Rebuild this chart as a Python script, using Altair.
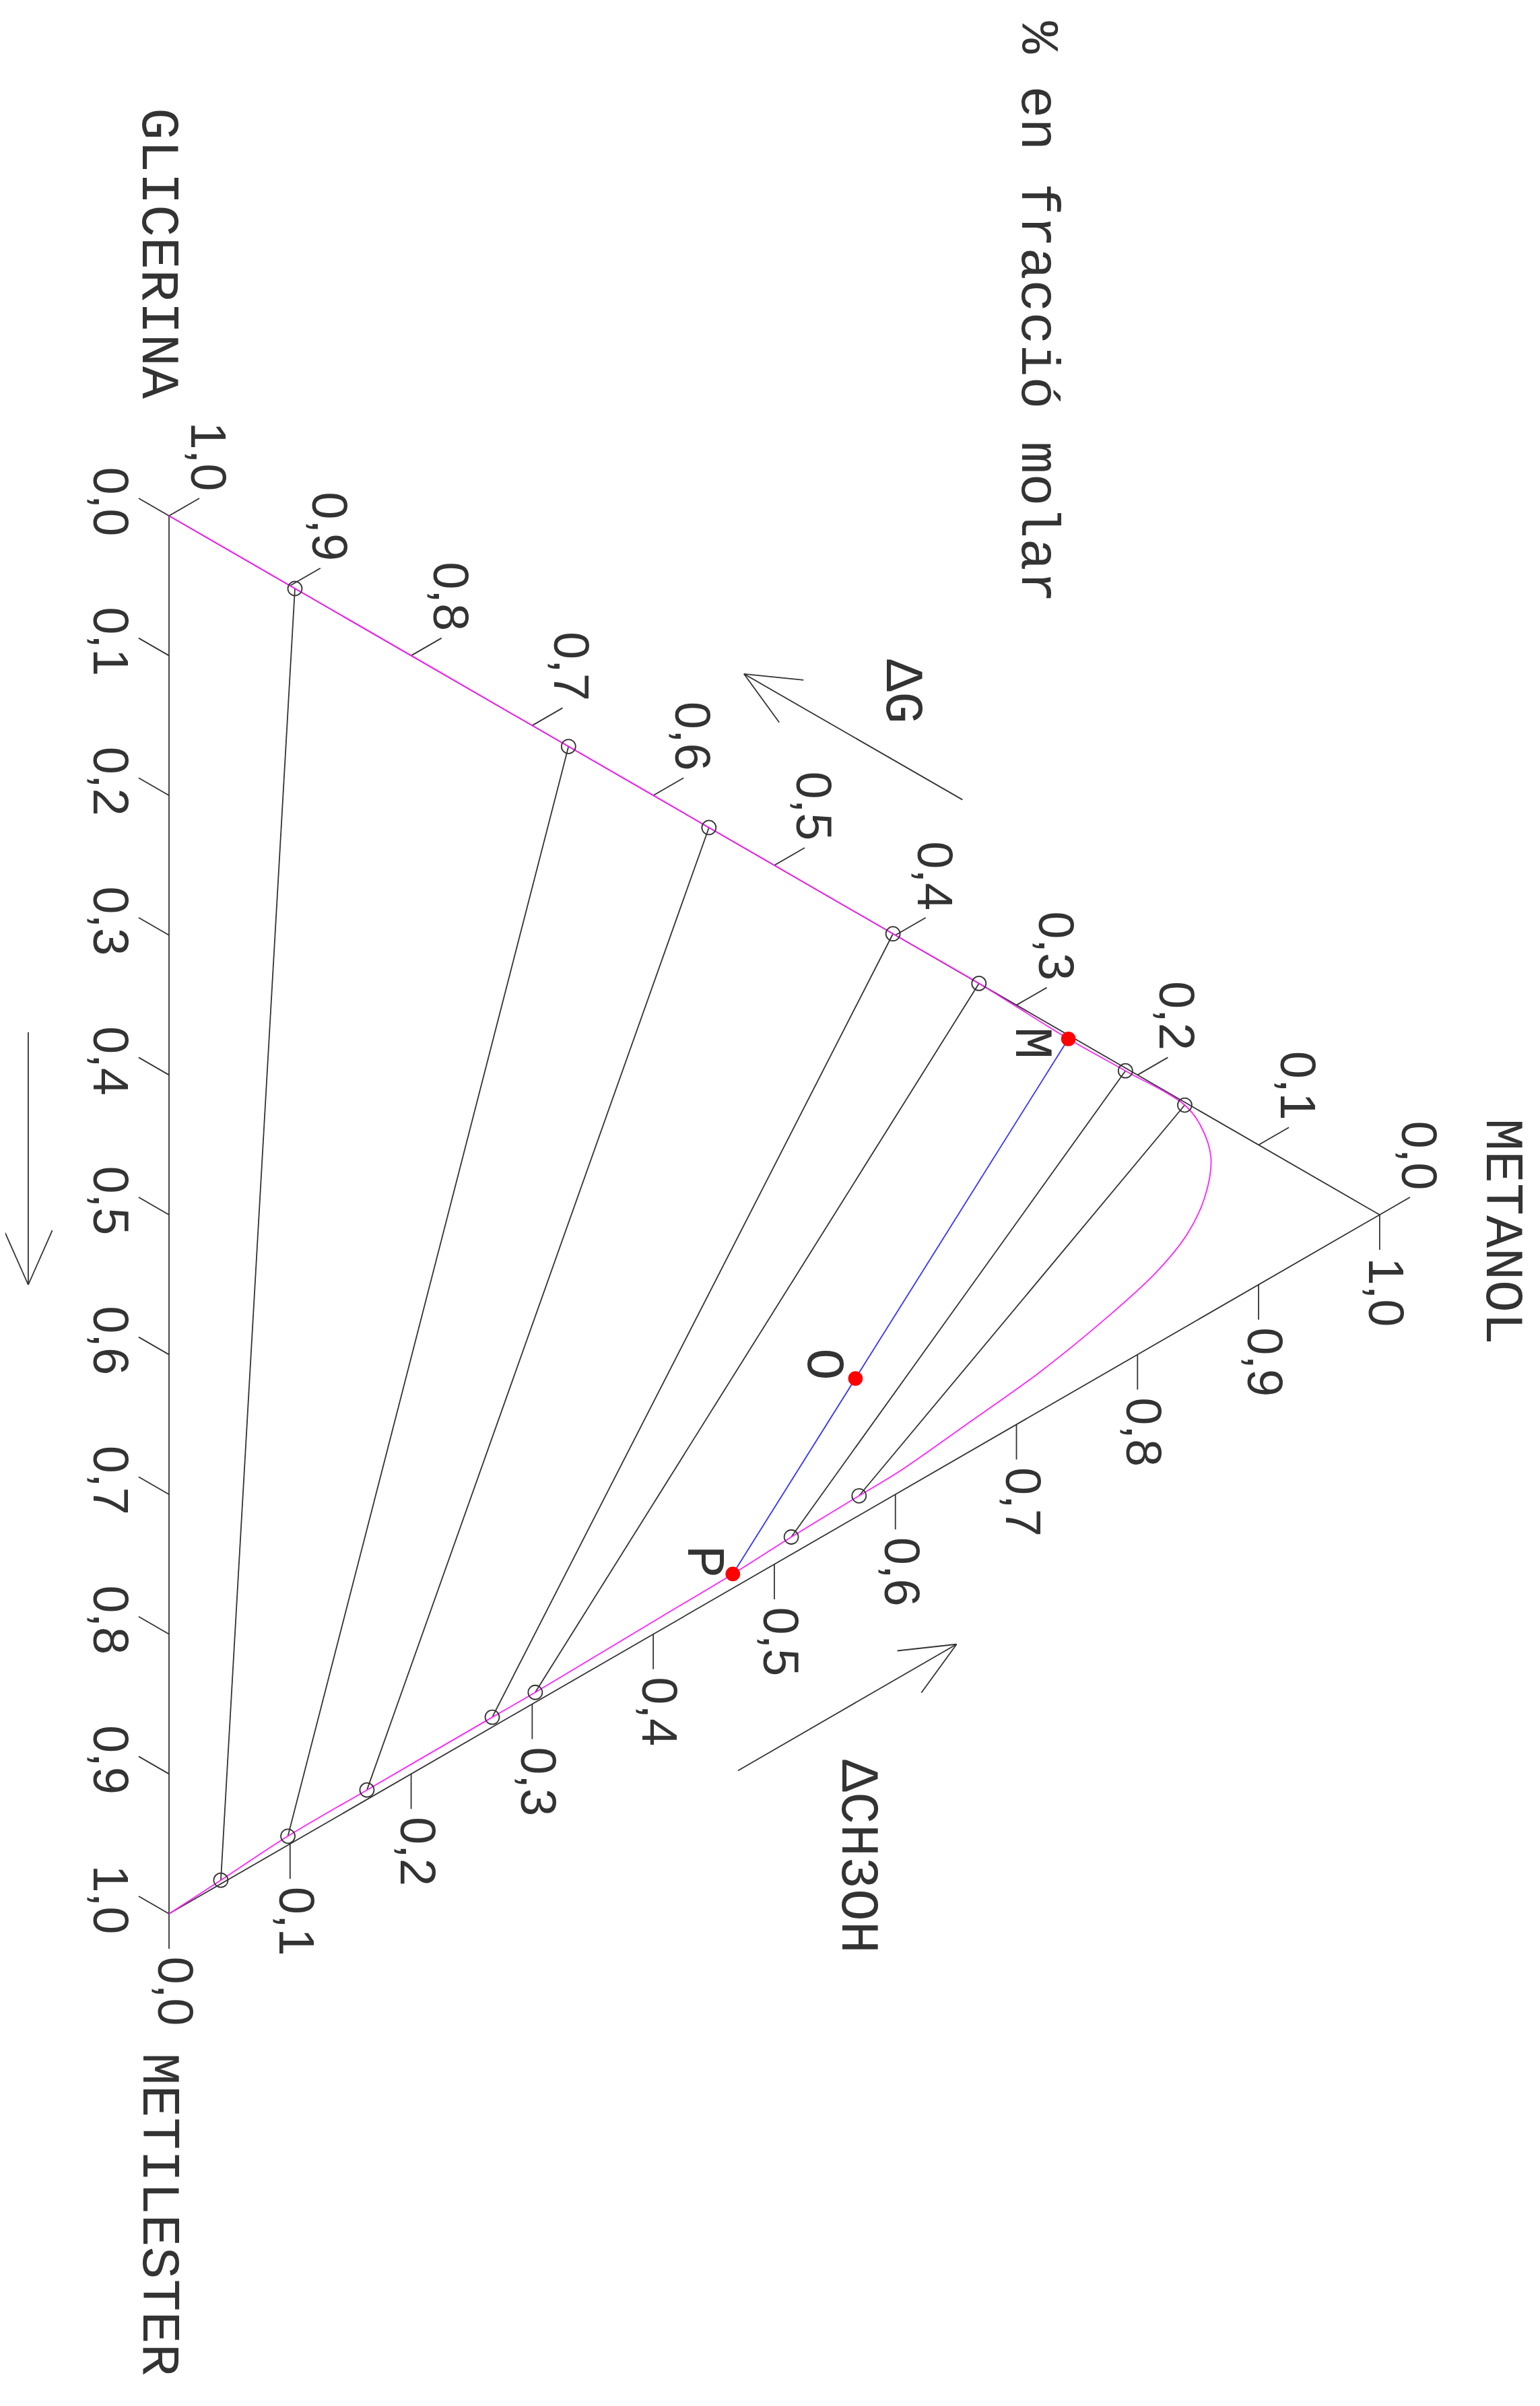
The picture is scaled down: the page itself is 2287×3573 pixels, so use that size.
import numpy as np
import pandas as pd
import altair as alt

# ---------------- data (molar fractions: glicerina, metanol; metilester = 1 - g - m) ----
tick_values = [0.0, 0.1, 0.2, 0.3, 0.4, 0.5, 0.6, 0.7, 0.8, 0.9, 1.0]
tick_labels = ["0,0", "0,1", "0,2", "0,3", "0,4", "0,5", "0,6", "0,7", "0,8", "0,9", "1,0"]

# binodal (solubility) curve, from the glycerine corner to the methyl-ester corner
curve_gli = [1.000, 0.896, 0.670, 0.554, 0.402, 0.331, 0.2544, 0.208, 0.159, 0.1375,
             0.111, 0.0858, 0.0657, 0.051, 0.039, 0.0276, 0.0206, 0.0147, 0.0140,
             0.0125, 0.0102, 0.0092, 0.0071, 0.0071, 0.0068, 0.0064, 0.0026, 0.000]
curve_met = [0.000, 0.104, 0.330, 0.446, 0.598, 0.669, 0.7429, 0.790, 0.839, 0.8522,
             0.8606, 0.856, 0.8411, 0.8152, 0.774, 0.718, 0.6576, 0.602, 0.570,
             0.514, 0.4657, 0.4075, 0.3025, 0.267, 0.1635, 0.0982, 0.0428, 0.000]

# tie lines (upper end on glycerine-rich phase, lower end on ester-rich phase)
tie_top_gli = [0.896, 0.670, 0.554, 0.402, 0.331, 0.208, 0.159]
tie_top_met = [0.104, 0.330, 0.446, 0.598, 0.669, 0.790, 0.839]
tie_bot_gli = [0.0026, 0.0064, 0.0068, 0.0071, 0.0071, 0.0125, 0.0140]
tie_bot_met = [0.0428, 0.0982, 0.1635, 0.2670, 0.3025, 0.5140, 0.5700]

# mixture points on the blue line
mix_names = ["M", "O", "P"]
mix_gli = [0.2544, 0.0994, 0.0102]
mix_met = [0.7429, 0.5670, 0.4657]

corner_names = ["GLICERINA", "METANOL", "METILESTER"]
title_text = "% en fracció molar"
arrow_texts = ["\u0394G", "\u0394CH3OH"]

# ---------------- layout (triangle side units; G corner at 0,0; y down) ----------
L = 2076.0                   # side of the triangle in px
W, H = 2271, 3540
X0 = -243.0 / L
Y0 = -758.0 / L
S3 = np.sqrt(3) / 2
TICK = 52.0 / L

def cart(g, m):
    g = np.asarray(g, float)
    m = np.asarray(m, float)
    e = 1.0 - g - m
    return m * S3, e + m / 2

def px(v):
    return v / L

xs = alt.Scale(domain=[X0, X0 + W / L], nice=False, zero=False)
ys = alt.Scale(domain=[Y0, Y0 + H / L], nice=False, zero=False, reverse=True)

def seg(df, color, width=1.8):
    return alt.Chart(df).mark_rule(color=color, strokeWidth=width).encode(
        x=alt.X("x:Q", scale=xs, axis=None), y=alt.Y("y:Q", scale=ys, axis=None),
        x2="x2:Q", y2="y2:Q")

INK = "#333333"

# triangle edges
cg = cart([1, 0, 0], [0, 1, 0])
edges = pd.DataFrame({"x": cg[0], "y": cg[1],
                      "x2": np.roll(cg[0], -1), "y2": np.roll(cg[1], -1)})

tv = np.array(tick_values)
# metilester axis (G-E edge)
ex, ey = cart(1 - tv, np.zeros_like(tv))
# glicerina axis (G-M edge)
gx, gy = cart(tv, 1 - tv)
# metanol axis (M-E edge)
mx, my = cart(np.zeros_like(tv), tv)

ticks = pd.concat([
    pd.DataFrame({"x": ex, "y": ey, "x2": ex - S3 * TICK, "y2": ey - 0.5 * TICK}),
    pd.DataFrame({"x": gx, "y": gy, "x2": gx + S3 * TICK, "y2": gy - 0.5 * TICK}),
    pd.DataFrame({"x": mx, "y": my, "x2": mx, "y2": my + TICK}),
])

tick_lab = pd.concat([
    pd.DataFrame({"x": ex - S3 * TICK + px(-45), "y": ey - 0.5 * TICK + px(5), "t": tick_labels}),
    pd.DataFrame({"x": gx + S3 * TICK + px(10), "y": gy - 0.5 * TICK + px(-62), "t": tick_labels}),
    pd.DataFrame({"x": mx + px(6), "y": my + TICK + px(63), "t": tick_labels}),
])

tx1, ty1 = cart(tie_top_gli, tie_top_met)
tx2, ty2 = cart(tie_bot_gli, tie_bot_met)
ties = pd.DataFrame({"x": tx1, "y": ty1, "x2": tx2, "y2": ty2})

kx, ky = cart(mix_gli, mix_met)
blue = pd.DataFrame({"x": [kx[0]], "y": [ky[0]], "x2": [kx[-1]], "y2": [ky[-1]]})

cx, cy = cart(curve_gli, curve_met)
curve = pd.DataFrame({"x": cx, "y": cy, "i": np.arange(len(cx))})

circles = pd.DataFrame({"x": np.concatenate([tx1, tx2]), "y": np.concatenate([ty1, ty2])})
reds = pd.DataFrame({"x": kx, "y": ky, "t": mix_names})

# annotation arrows (shaft tail, tip, two head ends) in side units
arrows = [
    [(0.5676, 0.2031), (0.4113, 0.1131), (0.4539, 0.1175), (0.4365, 0.1478)],
    [(0.4070, 0.8976), (0.5634, 0.8072), (0.5210, 0.8119), (0.5382, 0.8419)],
    [(-0.1007, 0.3695), (-0.1007, 0.5501), (-0.1180, 0.5111), (-0.0835, 0.5111)],
]
arr_rows = []
for tail, tip, h1, h2 in arrows:
    for a in (tail, h1, h2):
        arr_rows.append({"x": a[0], "y": a[1], "x2": tip[0], "y2": tip[1]})
arr = pd.DataFrame(arr_rows)

words = pd.DataFrame({
    "t": corner_names + [title_text] + arrow_texts,
    "x": [-0.0070, 0.9543, -0.0069, 0.6221, 0.5250, 0.4933],
    "y": [-0.1879, 0.5120, 1.2151, -0.1457, 0.1257, 0.9591],
})
point_lab = pd.DataFrame({
    "t": mix_names,
    "x": [0.6175, 0.4685, 0.3829],
    "y": [0.3772, 0.6069, 0.7481],
})

enc = dict(x=alt.X("x:Q", scale=xs, axis=None), y=alt.Y("y:Q", scale=ys, axis=None))

layers = [
    seg(edges, INK),
    seg(ticks, INK),
    seg(ties, INK),
    seg(arr, INK),
    alt.Chart(curve).mark_line(color="#ff22ff", strokeWidth=1.8, interpolate="catmull-rom").encode(
        order="i:Q", **enc),
    seg(blue, "#3333ff"),
    alt.Chart(circles).mark_point(shape="circle", filled=False, size=441, strokeWidth=1.8,
                                  color=INK, opacity=1).encode(**enc),
    alt.Chart(reds).mark_point(shape="circle", filled=True, size=470, color="#ff0000",
                               opacity=1).encode(**enc),
    alt.Chart(tick_lab).mark_text(angle=90, align="center", baseline="middle",
                                  font="Liberation Sans", fontSize=74, color=INK).encode(
        text="t:N", **enc),
    alt.Chart(words).mark_text(angle=90, align="center", baseline="middle",
                               font="Liberation Mono", fontSize=80, color=INK).encode(
        text="t:N", **enc),
    alt.Chart(point_lab).mark_text(angle=90, align="center", baseline="middle",
                                   font="Liberation Mono", fontSize=80, color=INK).encode(
        text="t:N", **enc),
]

chart = alt.layer(*layers).properties(
    width=W, height=H, padding=0, autosize=alt.AutoSizeParams(type="none"),
    background="white",
).configure_view(stroke=None)

chart.save("out.html", embed_options={"renderer": "svg", "actions": False})
